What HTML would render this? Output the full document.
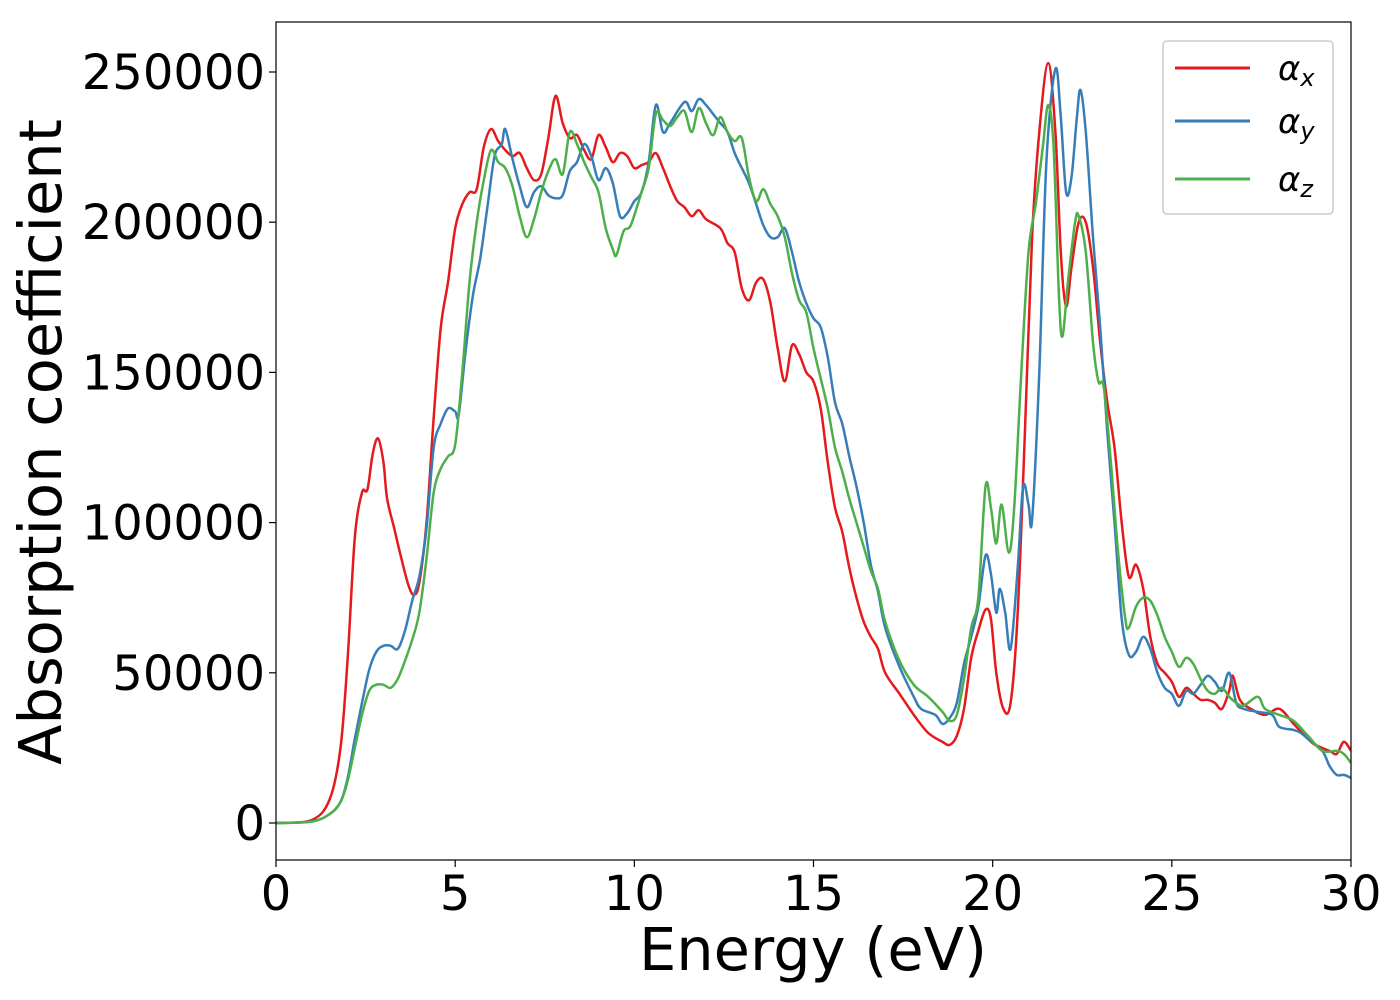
<!DOCTYPE html>
<html><head><meta charset="utf-8"><style>
html,body{margin:0;padding:0;background:#fff;width:1400px;height:1000px;overflow:hidden}
svg text{font-family:"DejaVu Sans","Liberation Sans",sans-serif;fill:#000}
</style></head><body>
<svg id="chart" width="1400" height="1000" xmlns="http://www.w3.org/2000/svg">
<g id="plot"></g>
<g id="axes"></g>
<text x="813" y="970" font-size="59" text-anchor="middle">Energy (eV)</text>
<text transform="translate(61,442) rotate(-90)" font-size="59" text-anchor="middle">Absorption coefficient</text>
<g>
<rect x="1163" y="41" width="170" height="173" rx="4" fill="#fff" fill-opacity="0.8" stroke="#ccc" stroke-width="1.5"/>
<g><line x1="1175" y1="68" x2="1250" y2="68" stroke="#e41a1c" stroke-width="3"/><text x="1278" y="80" font-size="34" font-style="italic">α<tspan font-size="24" dy="6">x</tspan></text></g>
<g><line x1="1175" y1="121" x2="1250" y2="121" stroke="#377eb8" stroke-width="3"/><text x="1278" y="133" font-size="34" font-style="italic">α<tspan font-size="24" dy="6">y</tspan></text></g>
<g><line x1="1175" y1="179" x2="1250" y2="179" stroke="#4daf4a" stroke-width="3"/><text x="1278" y="191" font-size="34" font-style="italic">α<tspan font-size="24" dy="6">z</tspan></text></g>
</g>
</svg>
<script>
const xTicks=[0,5,10,15,20,25,30];
const yTicks=[0,50000,100000,150000,200000,250000];
const xE=[0,1,1.5,1.8,2.0,2.2,2.4,2.55,2.7,2.85,3.0,3.1,3.3,3.5,3.7,3.85,4.0,4.2,4.4,4.6,4.8,5.0,5.2,5.4,5.6,5.8,6.0,6.2,6.4,6.6,6.8,7.0,7.2,7.4,7.6,7.8,8.0,8.2,8.4,8.6,8.8,9.0,9.2,9.4,9.6,9.8,10.0,10.2,10.4,10.6,10.8,11.0,11.2,11.4,11.6,11.8,12.0,12.4,12.6,12.8,13.0,13.2,13.4,13.6,13.8,14.0,14.2,14.4,14.6,14.8,15.0,15.2,15.4,15.6,15.8,16.0,16.2,16.4,16.6,16.8,17.0,17.4,17.8,18.2,18.6,18.8,19.0,19.2,19.4,19.6,19.8,19.95,20.1,20.3,20.5,20.7,20.9,21.1,21.3,21.55,21.75,21.9,22.05,22.2,22.4,22.6,22.8,23.0,23.2,23.4,23.6,23.8,24.0,24.2,24.4,24.6,24.8,25.0,25.2,25.4,25.6,25.8,26.0,26.2,26.4,26.6,26.7,26.9,27.2,27.6,28.0,28.4,28.8,29.0,29.4,29.6,29.8,30.0];
const xA=[0,1000,8000,25000,55000,95000,110000,111000,123000,128000,120000,108000,98000,88000,79000,76000,80000,100000,135000,165000,180000,198000,206000,210000,211000,225000,231000,227000,224000,222000,223000,218000,214000,216000,228000,242000,233000,228000,229000,224000,221000,229000,225000,220000,223000,222000,218000,219000,220000,223000,218000,212000,207000,205000,202000,204000,201000,198000,193000,190000,178000,174000,180000,181000,173000,158000,147000,159000,156000,150000,147000,138000,120000,105000,97000,85000,75000,67000,62000,58000,50000,43000,36000,30000,27000,26000,29000,38000,55000,64000,71000,68000,50000,38000,40000,70000,130000,195000,230000,253000,230000,190000,172000,185000,200000,200000,185000,160000,140000,125000,100000,82000,86000,78000,62000,53000,50000,47000,42000,45000,43000,41000,41000,40000,38000,44000,49000,41000,38000,36000,38000,33000,28000,26000,24000,23000,27000,24000];
const yE=[0,1,1.5,1.8,2.0,2.2,2.4,2.6,2.8,3.0,3.2,3.4,3.6,3.8,4.0,4.2,4.4,4.6,4.8,5.0,5.1,5.3,5.5,5.7,5.9,6.1,6.3,6.4,6.6,6.8,7.0,7.2,7.4,7.6,7.8,8.0,8.2,8.4,8.6,8.8,9.0,9.2,9.4,9.6,9.8,10.0,10.2,10.4,10.6,10.8,11.0,11.4,11.6,11.8,12.0,12.2,12.4,12.6,12.8,13.0,13.2,13.4,13.6,13.8,14.0,14.2,14.4,14.6,14.8,15.0,15.2,15.4,15.6,15.8,16.0,16.2,16.4,16.6,16.8,17.0,17.4,17.8,18.0,18.4,18.6,18.8,19.0,19.2,19.4,19.6,19.8,19.95,20.1,20.2,20.35,20.5,20.7,20.85,21.0,21.1,21.3,21.5,21.75,21.9,22.05,22.2,22.35,22.45,22.6,22.8,23.0,23.2,23.4,23.6,23.8,24.0,24.2,24.4,24.6,24.8,25.0,25.2,25.4,25.6,25.8,26.0,26.2,26.4,26.6,26.8,27.0,27.4,27.8,28.0,28.4,28.6,28.8,29.2,29.4,29.6,29.8,30.0];
const yA=[0,500,3000,7000,15000,28000,40000,51000,57000,59000,59000,58000,64000,74000,82000,98000,125000,133000,138000,137000,136000,158000,176000,188000,205000,222000,226000,231000,221000,212000,205000,210000,212000,209000,208000,209000,217000,220000,226000,222000,214000,218000,213000,202000,203000,207000,210000,220000,239000,230000,233000,240000,237000,241000,239000,236000,233000,230000,223000,218000,213000,206000,199000,195000,195000,198000,190000,180000,173000,168000,165000,155000,140000,133000,122000,112000,100000,86000,77000,65000,52000,42000,38000,36000,33000,35000,40000,53000,62000,72000,89000,83000,70000,78000,70000,58000,85000,112000,106000,101000,150000,220000,251000,235000,210000,215000,235000,244000,230000,195000,165000,130000,100000,68000,56000,57000,62000,58000,50000,45000,43000,39000,44000,43000,46000,49000,47000,44000,50000,40000,38000,37000,36000,32000,31000,30000,28000,24000,19000,16000,16000,15000];
const zE=[0,1,1.5,1.8,2.0,2.2,2.4,2.6,2.8,3.0,3.2,3.4,3.6,3.8,4.0,4.2,4.4,4.6,4.8,5.0,5.2,5.4,5.6,5.8,6.0,6.2,6.4,6.6,6.8,7.0,7.2,7.4,7.6,7.8,8.0,8.2,8.4,8.6,8.8,9.0,9.2,9.4,9.5,9.7,9.9,10.2,10.4,10.6,10.8,11.0,11.2,11.4,11.6,11.8,12.0,12.2,12.4,12.6,12.8,13.0,13.2,13.4,13.6,13.8,14.0,14.2,14.4,14.6,14.8,15.0,15.2,15.4,15.6,15.8,16.0,16.2,16.4,16.6,16.8,17.0,17.4,17.8,18.2,18.6,18.8,19.0,19.2,19.4,19.6,19.8,19.95,20.1,20.25,20.45,20.6,20.8,21.0,21.2,21.4,21.55,21.7,21.85,21.95,22.1,22.3,22.4,22.6,22.8,22.95,23.1,23.3,23.5,23.7,23.8,24.0,24.2,24.4,24.6,24.8,25.0,25.2,25.4,25.6,25.8,26.0,26.2,26.4,26.6,26.8,27.0,27.4,27.6,28.0,28.4,28.8,29.2,29.6,29.8,30.0];
const zA=[0,500,3000,7000,14000,25000,36000,44000,46000,46000,45000,48000,54000,61000,70000,88000,110000,118000,122000,126000,150000,180000,200000,214000,224000,220000,218000,212000,202000,195000,201000,210000,217000,221000,216000,230000,226000,220000,215000,210000,198000,191000,189000,197000,199000,210000,218000,236000,234000,232000,235000,237000,230000,238000,233000,229000,235000,230000,227000,228000,215000,207000,211000,206000,202000,195000,183000,174000,170000,158000,148000,138000,125000,117000,108000,100000,92000,84000,78000,67000,54000,46000,42000,37000,34000,36000,48000,65000,75000,112000,105000,93000,106000,90000,105000,150000,190000,206000,225000,239000,225000,175000,162000,180000,200000,202000,190000,160000,147000,145000,120000,90000,68000,65000,72000,75000,74000,69000,62000,57000,52000,55000,53000,48000,44000,43000,45000,42000,40000,39000,42000,38000,36000,34000,29000,24000,24000,23000,20000];

const L=276,R=1351,T=22,B=860;
const X=e=>L+(e-0)/30*(R-L);
const Y=a=>823-a*751/250000;
const NS="http://www.w3.org/2000/svg";
const plot=document.getElementById('plot'), axes=document.getElementById('axes');
function mk(tag,attrs,parent){const el=document.createElementNS(NS,tag);for(const k in attrs)el.setAttribute(k,attrs[k]);parent.appendChild(el);return el;}
function pathFor(E,A){
  const p=E.map((e,i)=>[X(e),Y(A[i])]);
  let d='M'+p[0][0].toFixed(1)+','+p[0][1].toFixed(1);
  for(let i=0;i<p.length-1;i++){
    const p0=p[i-1]||p[i],p1=p[i],p2=p[i+1],p3=p[i+2]||p2;
    const c1=[p1[0]+(p2[0]-p0[0])/6,p1[1]+(p2[1]-p0[1])/6];
    const c2=[p2[0]-(p3[0]-p1[0])/6,p2[1]-(p3[1]-p1[1])/6];
    d+=' C'+c1.map(v=>v.toFixed(1))+' '+c2.map(v=>v.toFixed(1))+' '+p2.map(v=>v.toFixed(1));
  }
  return d;
}
const series=[[xE,xA,'#e41a1c','series-alpha-x'],[yE,yA,'#377eb8','series-alpha-y'],[zE,zA,'#4daf4a','series-alpha-z']];
mk('clipPath',{id:'clip'},plot);
mk('rect',{x:L,y:T,width:R-L,height:B-T},document.getElementById('clip'));
series.forEach(s=>{
  const el=mk('path',{d:pathFor(s[0],s[1]),fill:'none',stroke:s[2],'stroke-width':2.5,'clip-path':'url(#clip)'},plot);
  
  
});
const frame=mk('rect',{x:L,y:T,width:R-L,height:B-T,fill:'none',stroke:'#000','stroke-width':1.2},axes);


xTicks.forEach(t=>{
  const x=X(t);
  const tk=mk('line',{x1:x,y1:B,x2:x,y2:B+7,stroke:'#000','stroke-width':1.2},axes);
  
  
  const lb=mk('text',{x:x,y:B+50,'font-size':48,'text-anchor':'middle'},axes);
  lb.textContent=t;
  
  
});
yTicks.forEach(t=>{
  const y=Y(t);
  const tk=mk('line',{x1:L-7,y1:y,x2:L,y2:y,stroke:'#000','stroke-width':1.2},axes);
  
  
  const lb=mk('text',{x:L-11,y:y+17,'font-size':48,'text-anchor':'end'},axes);
  lb.textContent=t;
  
  
});
</script>
</body></html>
